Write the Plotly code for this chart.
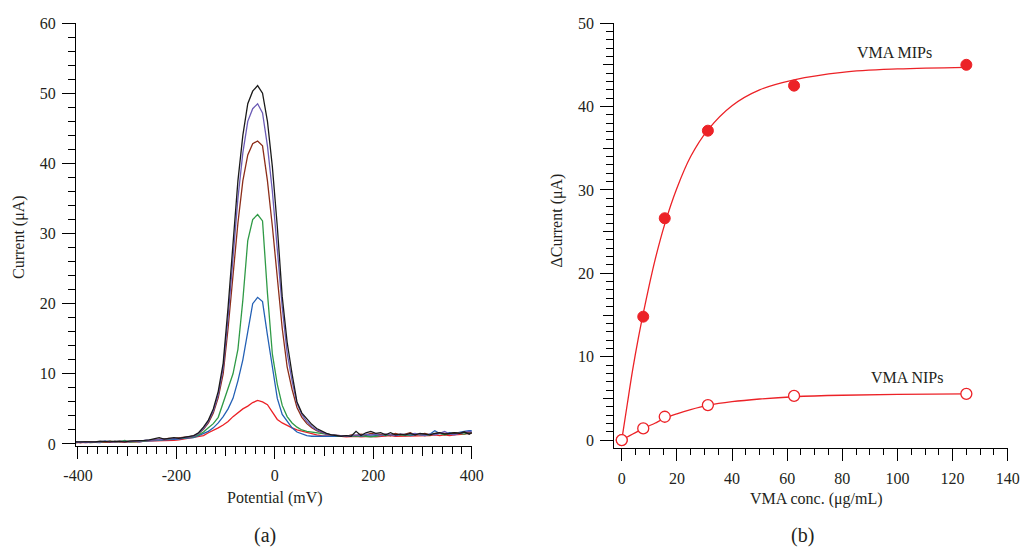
import plotly.graph_objects as go
import numpy as np

# ---------------- Panel (a): DPV curves ----------------
potential = list(np.arange(-405, 406, 10))  # mV sampling positions

cur_red = [0.2,0.2,0.2,0.2,0.2,0.2,0.2,0.3,0.3,0.3,0.3,0.3,0.3,0.3,0.4,0.4,0.4,0.4,0.5,0.5,0.5,0.6,0.7,0.8,
           0.9,1.0,1.2,1.6,1.9,2.3,2.7,3.2,3.9,4.5,5.0,5.4,5.9,6.2,6.0,5.6,4.5,3.5,3.0,2.6,2.3,2.0,1.8,1.6,1.4,1.3,1.2,1.2,1.1,
           1.1,1.1,1.0,1.1,1.1,1.0,1.1,1.1,1.0,1.1,1.1,1.2,1.1,1.1,1.2,1.1,1.2,1.2,1.1,1.2,1.3,1.2,1.3,1.2,1.3,1.3,1.4,1.5,1.5]
cur_blue = [0.3,0.2,0.3,0.3,0.3,0.2,0.4,0.3,0.3,0.4,0.3,0.3,0.4,0.3,0.4,0.4,0.5,0.5,0.6,0.6,0.7,0.7,0.8,0.8,
            0.9,1.2,1.5,1.8,2.3,3.0,3.9,5.0,6.5,9.0,12.0,16.0,20.0,20.9,20.3,15.5,11.0,6.5,4.2,3.2,2.3,1.7,1.4,1.2,1.1,1.1,1.1,1.0,1.1,
            1.1,1.0,1.1,1.1,1.2,1.1,1.2,1.1,1.2,1.3,1.2,1.3,1.2,1.3,1.4,1.2,1.3,1.4,1.3,1.4,1.9,1.5,1.4,1.6,1.5,1.7,1.8,1.9,1.9]
cur_green = [0.2,0.3,0.3,0.2,0.3,0.3,0.3,0.4,0.3,0.3,0.5,0.3,0.3,0.4,0.4,0.5,0.5,0.6,0.6,0.7,0.8,0.8,0.9,0.9,
             1.0,1.3,1.7,2.3,2.9,3.8,5.8,7.7,10.0,13.5,20.5,29.0,32.0,32.7,31.8,21.5,12.8,8.5,5.5,3.9,3.0,2.4,2.0,1.8,1.7,1.6,1.4,1.3,1.2,
             1.2,1.1,1.1,1.2,1.1,1.2,1.1,1.0,1.1,1.2,1.3,1.2,1.4,1.3,1.2,1.3,1.4,1.3,1.2,1.3,1.4,1.5,1.3,1.4,1.6,1.5,1.4,1.6,1.5]
cur_brown = [0.3,0.2,0.3,0.3,0.2,0.3,0.3,0.4,0.3,0.4,0.3,0.4,0.4,0.4,0.5,0.5,0.6,0.7,0.7,0.8,0.8,0.9,0.9,1.0,
             1.1,1.5,2.1,3.0,4.4,6.6,10.0,16.5,24.5,31.5,37.5,41.2,42.8,43.2,42.5,37.5,31.0,24.0,16.5,11.0,7.8,5.2,3.8,2.9,2.3,1.9,1.6,1.4,1.3,
             1.2,1.2,1.1,1.3,1.2,1.4,1.3,1.5,1.4,1.3,1.4,1.2,1.5,1.3,1.4,1.6,1.3,1.4,1.5,1.3,1.4,1.6,1.5,1.4,1.6,1.5,1.7,1.6,1.5]
cur_purple = [0.2,0.3,0.2,0.3,0.3,0.3,0.4,0.3,0.3,0.3,0.4,0.3,0.4,0.4,0.5,0.5,0.6,0.6,0.7,0.7,0.8,0.8,0.9,1.0,
              1.1,1.5,2.2,3.2,4.7,7.0,10.8,18.0,27.0,35.0,41.5,46.0,47.8,48.5,47.2,42.5,36.0,28.0,19.5,13.0,9.0,5.8,4.2,3.2,2.5,2.0,1.7,1.4,1.3,
              1.2,1.1,1.1,1.2,1.3,1.2,1.4,1.3,1.4,1.2,1.4,1.3,1.2,1.4,1.3,1.4,1.5,1.3,1.2,1.4,1.3,1.5,1.8,1.4,1.3,1.5,1.6,1.8,1.7]
cur_black = [0.3,0.3,0.3,0.2,0.3,0.4,0.3,0.3,0.4,0.3,0.3,0.4,0.4,0.5,0.5,0.6,0.7,0.9,0.7,0.8,0.9,0.8,0.9,1.0,
             1.2,1.6,2.4,3.4,5.0,7.5,11.5,19.5,29.0,37.5,44.0,48.5,50.3,51.1,50.0,46.0,39.5,31.0,21.0,14.5,10.0,6.0,4.4,3.6,2.8,2.2,1.8,1.5,1.3,
             1.2,1.1,1.2,1.1,1.8,1.2,1.6,1.8,1.5,1.6,1.3,1.6,1.3,1.4,1.3,1.5,1.3,1.5,1.4,1.3,1.5,1.6,1.4,1.5,1.6,1.5,1.7,1.4,1.8]

curves_a = [
    (cur_red, "#ec2227"),
    (cur_blue, "#2360b5"),
    (cur_green, "#2f9a46"),
    (cur_brown, "#8c2d19"),
    (cur_purple, "#6b5bb5"),
    (cur_black, "#1a1a1a"),
]

pot_tickvals = [-400, -200, 0, 200, 400]
pot_ticktext = ["-400", "-200", "0", "200", "400"]
pot_midticks = [-300, -100, 100, 300]

# ---------------- Panel (b): calibration ----------------
conc = [0, 7.8, 15.6, 31.25, 62.5, 125]
mip = [0, 14.8, 26.6, 37.1, 42.5, 45.0]
nip = [0, 1.4, 2.8, 4.2, 5.3, 5.55]

fit_x = [0, 2, 4, 6, 7.8, 10, 12, 15.6, 20, 25, 31.25, 40, 50, 62.5, 80, 100, 125]
mip_fit = [0, 4.3, 8.5, 12.2, 15.2, 18.6, 21.5, 25.9, 30.2, 34.0, 37.2, 40.1, 42.0, 43.2, 44.1, 44.5, 44.7]
nip_fit = [0, 0.37, 0.73, 1.08, 1.38, 1.72, 2.02, 2.62, 3.15, 3.65, 4.15, 4.6, 4.93, 5.2, 5.38, 5.47, 5.54]

RED = "#ec2227"
FONT = "Liberation Serif"
TXT = "#231f20"

fig = go.Figure()

for ys, col in curves_a:
    fig.add_trace(go.Scatter(x=potential, y=ys, mode="lines",
                             line=dict(color=col, width=1.3),
                             xaxis="x", yaxis="y", showlegend=False, hoverinfo="skip"))
fig.add_trace(go.Scatter(x=[None], y=[None], xaxis="x3", yaxis="y", showlegend=False, hoverinfo="skip"))

fig.add_trace(go.Scatter(x=fit_x, y=mip_fit, mode="lines", line=dict(color=RED, width=1.3, shape="spline"),
                         xaxis="x2", yaxis="y2", showlegend=False, hoverinfo="skip"))
fig.add_trace(go.Scatter(x=fit_x, y=nip_fit, mode="lines", line=dict(color=RED, width=1.3, shape="spline"),
                         xaxis="x2", yaxis="y2", showlegend=False, hoverinfo="skip"))
fig.add_trace(go.Scatter(x=conc, y=mip, mode="markers",
                         marker=dict(color=RED, size=11, line=dict(color=RED, width=1)),
                         xaxis="x2", yaxis="y2", showlegend=False, hoverinfo="skip"))
fig.add_trace(go.Scatter(x=conc, y=nip, mode="markers",
                         marker=dict(color="white", size=11, line=dict(color=RED, width=1.3)),
                         xaxis="x2", yaxis="y2", showlegend=False, hoverinfo="skip"))
fig.add_trace(go.Scatter(x=[None], y=[None], xaxis="x2", yaxis="y4", showlegend=False, hoverinfo="skip"))

W, H = 1021, 548
def px(x):
    return x / W
def py(y):
    return 1 - y / H

tickfont = dict(family=FONT, size=16, color=TXT)
common = dict(showgrid=False, zeroline=False, showline=True, linecolor="black", linewidth=1.3,
              ticks="outside", tickcolor="black", tickwidth=1, tickfont=tickfont, automargin=False)

ydom_a = [py(445.8), py(23.1)]
ydom_b = [py(447.6), py(23.1)]

fig.update_layout(
    template="none",
    width=W, height=H,
    margin=dict(l=0, r=0, t=0, b=0, pad=0),
    paper_bgcolor="white", plot_bgcolor="white",
    showlegend=False,
    xaxis=dict(domain=[px(76), px(471.7)], range=[-404, 400], anchor="y",
               tickmode="array", tickvals=pot_tickvals, ticktext=pot_ticktext, ticklen=12,
               ticklabelstandoff=3,
               minor=dict(tickmode="linear", tick0=0, dtick=20, ticks="outside", ticklen=7,
                          tickcolor="black", tickwidth=1, showgrid=False),
               **common),
    xaxis3=dict(overlaying="x", range=[-404, 400], anchor="y", side="bottom",
                tickmode="array", tickvals=pot_midticks, ticks="outside", ticklen=9,
                tickcolor="black", tickwidth=1, showticklabels=False, showline=False,
                showgrid=False, zeroline=False, automargin=False),
    yaxis=dict(domain=ydom_a, range=[-0.26, 60], anchor="x", dtick=10, tick0=0, ticklen=13,
               ticklabelstandoff=3,
               minor=dict(tickmode="linear", tick0=0, dtick=2, ticks="outside", ticklen=7,
                          tickcolor="black", tickwidth=1, showgrid=False),
               **common),
    xaxis2=dict(domain=[px(614.3), px(1007.7)], range=[-2.7, 140], anchor="y2", dtick=20, tick0=0,
                ticklen=12, ticklabelstandoff=4,
                minor=dict(tickmode="linear", tick0=0, dtick=5, ticks="outside", ticklen=6,
                           tickcolor="black", tickwidth=1, showgrid=False),
                **common),
    yaxis2=dict(domain=ydom_b, range=[-0.9, 50], anchor="x2", dtick=10, tick0=0, ticklen=13,
                ticklabelstandoff=3,
                minor=dict(tickmode="linear", tick0=0, dtick=1, ticks="outside", ticklen=7,
                           tickcolor="black", tickwidth=1, showgrid=False),
                **common),
    yaxis4=dict(overlaying="y2", range=[-0.9, 50], anchor="x2", side="left",
                tickmode="array", tickvals=[5, 15, 25, 35, 45], ticks="outside", ticklen=10,
                tickcolor="black", tickwidth=1, showticklabels=False, showline=False,
                showgrid=False, zeroline=False, automargin=False),
)

def ann(text, x, y, size=16, angle=0):
    fig.add_annotation(text=text, x=px(x), y=py(y), xref="paper", yref="paper",
                       showarrow=False, textangle=angle, xanchor="center", yanchor="middle",
                       font=dict(family=FONT, size=size, color=TXT))

ann("Current (μA)", 19, 237, angle=-90)
ann("Potential (mV)", 275, 498)
ann("(a)", 265, 535, size=20)
ann("ΔCurrent (μA)", 556.5, 221, angle=-90)
ann("VMA conc. (μg/mL)", 816, 499)
ann("(b)", 802, 535, size=20)
ann("VMA MIPs", 894, 52.4)
ann("VMA NIPs", 907, 377)

fig.write_html("out.html", config={"displayModeBar": False},
               post_script="document.body.style.margin='0';document.body.style.padding='0';"
                           "document.body.style.overflow='hidden';")
